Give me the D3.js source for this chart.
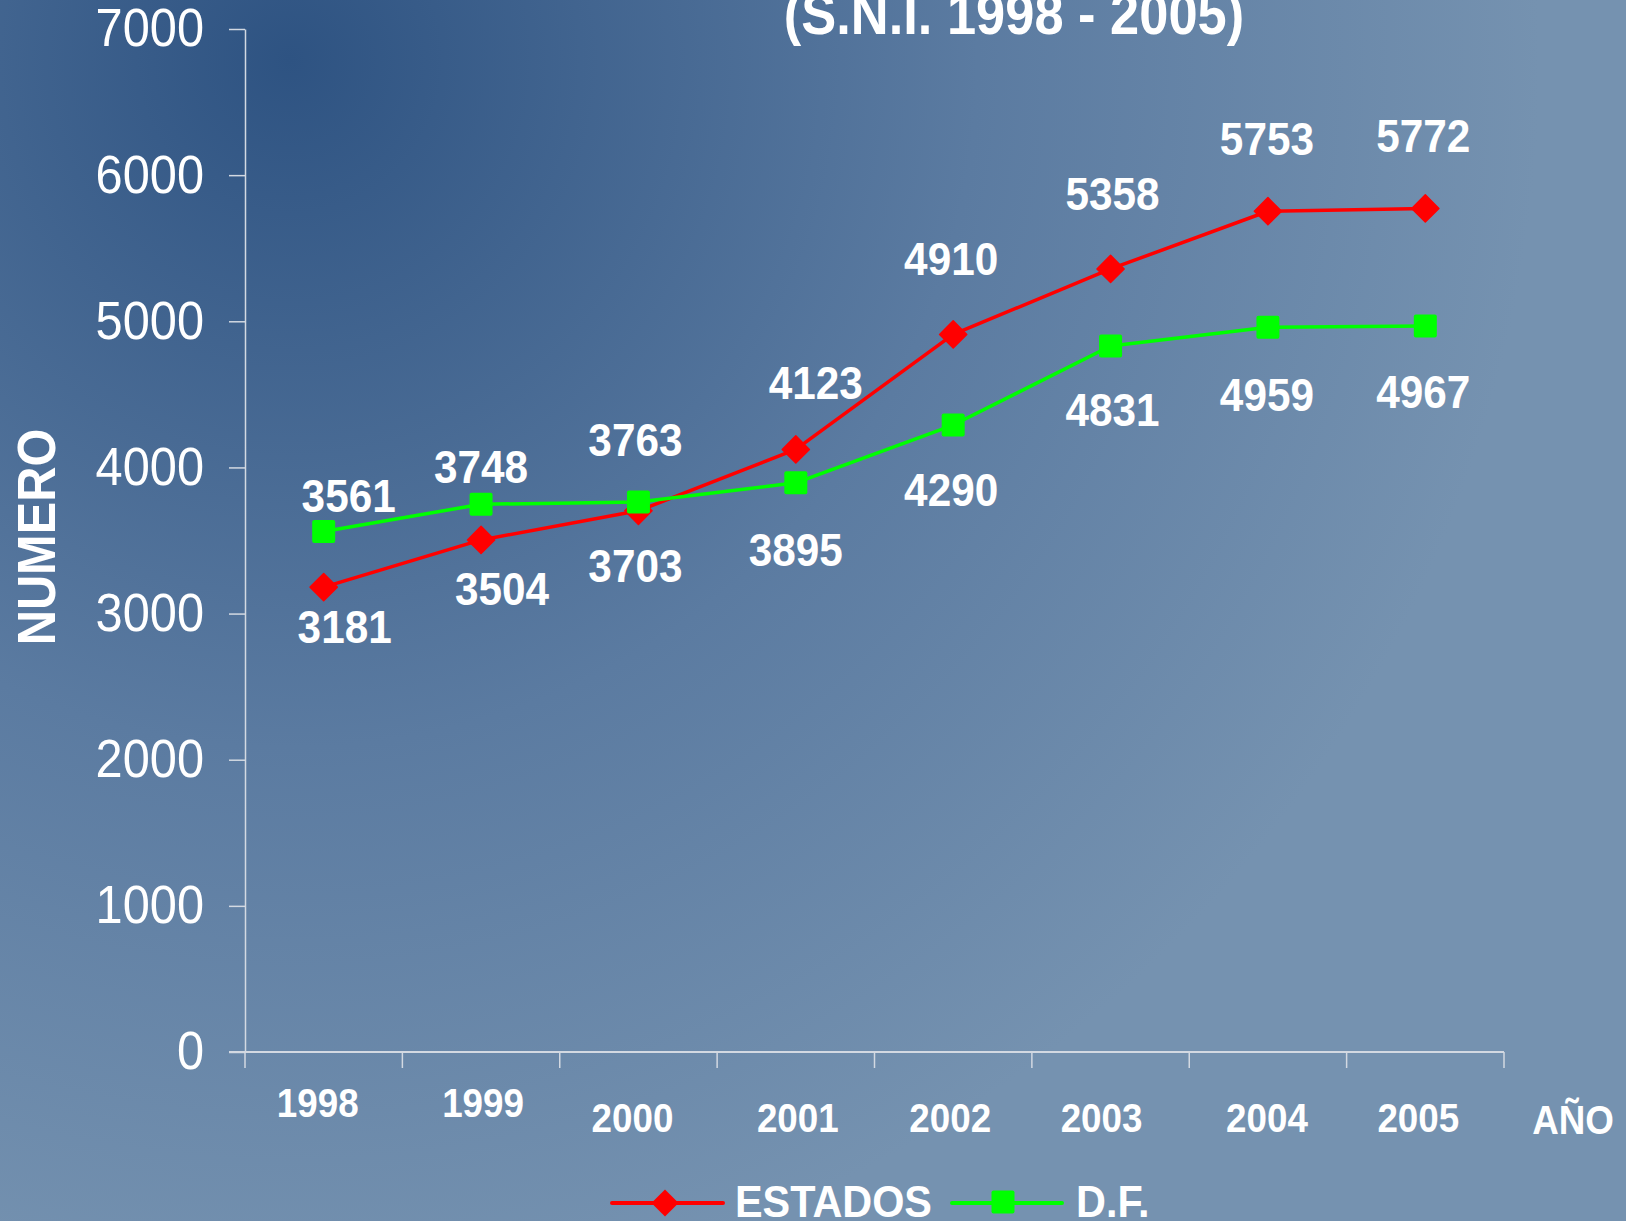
<!DOCTYPE html>
<html>
<head>
<meta charset="utf-8">
<script src="https://cdn.jsdelivr.net/npm/d3@7"></script>
<style>
  body { margin: 0; padding: 0; overflow: hidden; }
  text { font-family: "Liberation Sans", Arial, sans-serif; fill: #fff; }
</style>
</head>
<body>
<div id="chart"></div>
<script>
// data
var years = ["1998", "1999", "2000", "2001", "2002", "2003", "2004", "2005"];
var estados = [3181, 3504, 3703, 4123, 4910, 5358, 5753, 5772];
var df = [3561, 3748, 3763, 3895, 4290, 4831, 4959, 4967];
var yTicks = [0, 1000, 2000, 3000, 4000, 5000, 6000, 7000];
var seriesNames = ["ESTADOS", "D.F."];

// label placement (pixels from the marker, label centre)
var estadosLabelOff = [[21, 39], [21, 49], [-3, 55], [20, -67], [-2, -76], [2, -75], [-1, -73], [-2, -73]];
var dfLabelOff = [[25, -36], [0, -38], [-3, -63], [0, 67], [-2, 64], [2, 64], [-1, 67], [-2, 65]];
var yearLabelDy = [1117, 1117, 1132, 1132, 1132, 1132, 1132, 1132];
var yearLabelDx = [-6, 2, -6, 2, -3, -9, -1, -7];

var W = 1626, H = 1221;
var sx = 0.92; // horizontal squeeze of the original lettering

var svg = d3.select("#chart").append("svg")
    .attr("width", W)
    .attr("height", H);

// background
var defs = svg.append("defs");
var grad = defs.append("radialGradient")
    .attr("id", "bg")
    .attr("gradientUnits", "userSpaceOnUse")
    .attr("cx", 290).attr("cy", 60).attr("r", 1250);
grad.append("stop").attr("offset", "0%").attr("stop-color", "#2e5382");
grad.append("stop").attr("offset", "55%").attr("stop-color", "#5b7ba1");
grad.append("stop").attr("offset", "100%").attr("stop-color", "#7592b0");
svg.append("rect").attr("width", W).attr("height", H).attr("fill", "url(#bg)");

var x = d3.scaleBand().domain(years).range([245, 1504]);
var y = d3.scaleLinear().domain([0, 7000]).range([1052, 29]);

var axisColor = "#d3d9e2";

// y axis
var yAxis = svg.append("g")
    .attr("transform", "translate(245,0)")
    .call(d3.axisLeft(y).tickValues(yTicks).tickFormat(d3.format("d"))
      .tickSize(16).tickSizeOuter(0).tickPadding(25));
yAxis.select(".domain").attr("stroke", axisColor).attr("stroke-width", 1.5);
yAxis.selectAll(".tick line").attr("stroke", axisColor).attr("stroke-width", 1.5);
yAxis.selectAll(".tick text")
    .attr("x", null)
    .attr("transform", "translate(-41,0) scale(" + sx + ",1)")
    .style("font-size", "53px")
    .style("font-family", "'Liberation Sans', Arial, sans-serif")
    .attr("fill", "#fff");

// x axis
var xg = svg.append("g");
xg.append("line")
    .attr("x1", 229).attr("x2", x.range()[1])
    .attr("y1", y(0)).attr("y2", y(0))
    .attr("stroke", axisColor).attr("stroke-width", 2);
var edges = years.map(function(d) { return x(d); }).concat([x.range()[1]]);
xg.selectAll("line.tk").data(edges).enter().append("line")
    .attr("class", "tk")
    .attr("x1", function(d) { return d; }).attr("x2", function(d) { return d; })
    .attr("y1", y(0)).attr("y2", y(0) + 16)
    .attr("stroke", axisColor).attr("stroke-width", 1.5);

xg.selectAll("text.yr").data(years).enter().append("text")
    .attr("class", "yr")
    .attr("text-anchor", "middle")
    .attr("transform", function(d, i) {
      return "translate(" + (x(d) + x.bandwidth() / 2 + yearLabelDx[i]) + "," + yearLabelDy[i] + ") scale(" + sx + ",1)";
    })
    .style("font-size", "40px").style("font-weight", "bold")
    .text(function(d) { return d; });

svg.append("text")
    .attr("text-anchor", "middle")
    .attr("transform", "translate(1573,1134) scale(" + sx + ",1)")
    .style("font-size", "40px").style("font-weight", "bold")
    .text("AÑO");

// y title
svg.append("text")
    .attr("text-anchor", "middle")
    .attr("transform", "translate(55,537) rotate(-90) scale(" + sx + ",1)")
    .style("font-size", "53px").style("font-weight", "bold")
    .text("NUMERO");

// title (upper line is outside the picture)
svg.append("text")
    .attr("text-anchor", "middle")
    .attr("transform", "translate(1014,34) scale(" + sx + ",1)")
    .style("font-size", "57px").style("font-weight", "bold")
    .text("(S.N.I. 1998 - 2005)");

var cx = function(i) { return x(years[i]) + x.bandwidth() / 2; };

var line = d3.line()
    .x(function(d, i) { return cx(i); })
    .y(function(d) { return y(d); });

var diamond = d3.symbol().type(d3.symbolSquare).size(370);

function drawSeries(values, color, offs, isDiamond) {
  var g = svg.append("g");
  g.append("path")
      .datum(values)
      .attr("d", line)
      .attr("fill", "none")
      .attr("stroke", color)
      .attr("stroke-width", 3.5)
      .attr("stroke-linejoin", "round");
  if (isDiamond) {
    g.selectAll("path.mk").data(values).enter().append("path")
        .attr("class", "mk")
        .attr("d", diamond)
        .attr("transform", function(d, i) { return "translate(" + cx(i) + "," + y(d) + ") rotate(45)"; })
        .attr("fill", color).attr("stroke", color).attr("stroke-width", 1.5).attr("stroke-linejoin", "round");
  } else {
    g.selectAll("rect.mk").data(values).enter().append("rect")
        .attr("class", "mk")
        .attr("x", function(d, i) { return cx(i) - 11.5; })
        .attr("y", function(d) { return y(d) - 11.5; })
        .attr("width", 23).attr("height", 23).attr("rx", 2)
        .attr("fill", color);
  }
  g.selectAll("text").data(values).enter().append("text")
      .attr("text-anchor", "middle")
      .attr("transform", function(d, i) {
        return "translate(" + (cx(i) + offs[i][0]) + "," + (y(d) + offs[i][1] + 16.5) + ") scale(" + sx + ",1)";
      })
      .style("font-size", "46px").style("font-weight", "bold")
      .text(function(d) { return d; });
}

drawSeries(estados, "#ff0000", estadosLabelOff, true);
drawSeries(df, "#00ff00", dfLabelOff, false);

// legend
var lg = svg.append("g");
lg.append("line").attr("x1", 612).attr("x2", 723).attr("y1", 1203).attr("y2", 1203)
    .attr("stroke", "#ff0000").attr("stroke-width", 4).attr("stroke-linecap", "round");
lg.append("path").attr("d", diamond)
    .attr("transform", "translate(665,1203) rotate(45)")
    .attr("fill", "#ff0000");
lg.append("text")
    .attr("transform", "translate(735,1217) scale(" + sx + ",1)")
    .style("font-size", "45px").style("font-weight", "bold")
    .text(seriesNames[0]);
lg.append("line").attr("x1", 952).attr("x2", 1062).attr("y1", 1203).attr("y2", 1203)
    .attr("stroke", "#00ff00").attr("stroke-width", 4).attr("stroke-linecap", "round");
lg.append("rect").attr("x", 1003 - 11.5).attr("y", 1202 - 11.5).attr("width", 23).attr("height", 23).attr("rx", 2)
    .attr("fill", "#00ff00");
lg.append("text")
    .attr("transform", "translate(1076,1217) scale(" + sx + ",1)")
    .style("font-size", "45px").style("font-weight", "bold")
    .text(seriesNames[1]);
</script>
</body>
</html>
